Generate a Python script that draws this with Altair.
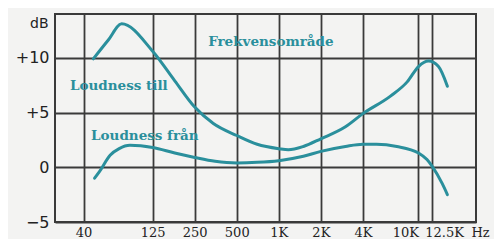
import altair as alt
import pandas as pd

# Upper curve ("Loudness till")
till_freq = [47, 60, 75, 125, 180, 250, 340, 500, 700, 1000, 1170, 1500, 2000, 3000, 4000, 6300, 8300, 10000, 11800, 13900, 16100]
till_db = [9.9, 11.6, 13.1, 10.6, 7.9, 5.5, 4.0, 2.9, 2.1, 1.7, 1.6, 1.9, 2.6, 3.7, 4.9, 6.5, 7.8, 9.2, 9.7, 9.2, 7.4]

# Lower curve ("Loudness från")
fran_freq = [48, 52, 62, 72, 86, 125, 180, 250, 350, 500, 700, 1000, 1500, 2000, 3000, 4000, 5000, 7000, 10000, 11500, 12500, 14800, 16100]
fran_db = [-1.0, -0.4, 1.1, 1.7, 2.0, 1.8, 1.3, 0.9, 0.55, 0.4, 0.45, 0.6, 1.0, 1.45, 1.9, 2.1, 2.1, 1.9, 1.3, 0.7, 0.1, -1.5, -2.5]

x_ticks = [40, 125, 250, 500, 1000, 2000, 4000, 10000, 12500]
x_tick_labels = ["40", "125", "250", "500", "1K", "2K", "4K", "10K", "12.5K"]
y_ticks = [-5, 0, 5, 10]

label_text = ["Frekvensområde", "Loudness till", "Loudness från"]
label_freq = [312, 32, 45.3]
label_db = [11.4, 7.4, 2.9]

TEAL = "#2a8f9c"
GRID = "#3a3a3a"
SERIF = "DejaVu Serif"

curves = pd.DataFrame(
    {"f": till_freq + fran_freq,
     "db": till_db + fran_db,
     "curve": ["till"] * len(till_freq) + ["fran"] * len(fran_freq)}
)
labels = pd.DataFrame({"t": label_text, "f": label_freq, "db": label_db})

label_expr = " : ".join(
    f"datum.value == {v} ? '{t}'" for v, t in zip(x_ticks, x_tick_labels)
) + " : ''"

xscale = alt.Scale(type="log", domain=[25, 25800], nice=False)
yscale = alt.Scale(domain=[-5, 14], nice=False, zero=False)

xaxis = alt.Axis(
    values=x_ticks, labelExpr=label_expr, ticks=False, domain=False,
    grid=True, gridColor=GRID, gridWidth=1.8, gridOpacity=1,
    labelFont=SERIF, labelFontSize=13, labelColor="#222", labelPadding=4,
    labelAlign=alt.ConditionalAxisLabelAlign(
        condition={"test": "datum.value == 10000", "value": "right"}, value="center"),
    labelOffset=alt.ConditionalAxisNumber(
        condition={"test": "datum.value == 12500", "value": 12}, value=0),
    title="Hz", titleFont=SERIF, titleFontSize=13, titleFontWeight="normal",
    titleColor="#222", titleX=425, titleY=14.5, titleAnchor="start", titleAlign="center",
    titleBaseline="alphabetic",
)
yaxis = alt.Axis(
    values=y_ticks, ticks=False, domain=False,
    labelExpr="datum.value > 0 ? '+' + datum.value : datum.value < 0 ? '\u2212' + (-datum.value) : '0'",
    grid=True, gridColor=GRID, gridWidth=1.8, gridOpacity=1,
    labelFont="DejaVu Sans", labelFontSize=16, labelColor="#222", labelPadding=6,
    title="dB", titleAngle=0, titleFont="DejaVu Sans", titleFontSize=14,
    titleFontWeight="normal", titleColor="#222", titleX=-7, titleY=9,
    titleAlign="right", titleBaseline="middle",
)

lines = alt.Chart(curves).mark_line(
    color=TEAL, strokeWidth=3, interpolate="monotone", strokeCap="round"
).encode(
    x=alt.X("f:Q", scale=xscale, axis=xaxis),
    y=alt.Y("db:Q", scale=yscale, axis=yaxis),
    detail="curve:N",
)

texts = alt.Chart(labels).mark_text(
    color=TEAL, font=SERIF, fontSize=13.5, fontWeight="bold", align="left", baseline="middle"
).encode(
    x=alt.X("f:Q", scale=xscale),
    y=alt.Y("db:Q", scale=yscale),
    text="t:N",
)

chart = (lines + texts).properties(
    width=421, height=208,
    autosize=alt.AutoSizeParams(type="none"),
    padding={"left": 47, "top": 6, "right": 18, "bottom": 17},
    background="#f3f3f2",
).configure_view(stroke=GRID, strokeWidth=2)

chart.save("out.html", embed_options={"renderer": "svg", "actions": False})
